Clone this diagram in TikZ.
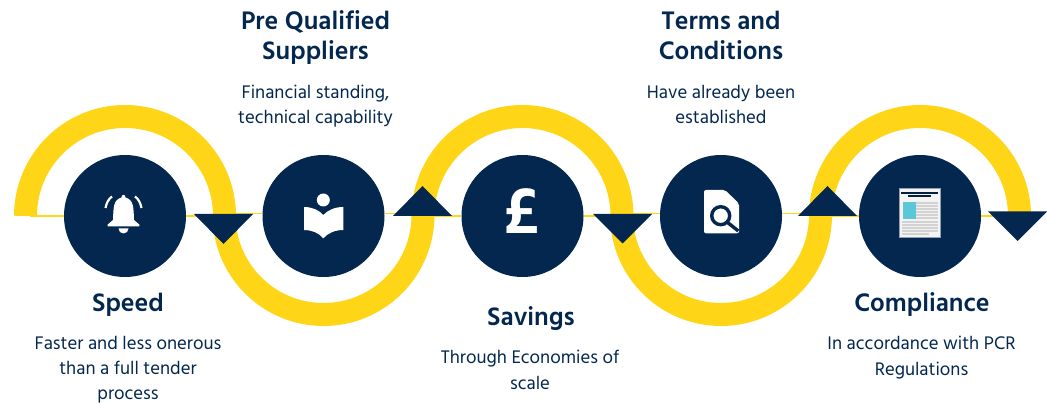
\documentclass[tikz,border=0pt]{standalone}
\usepackage{fontspec}
\setmainfont{Hind Madurai}
\definecolor{navy}{HTML}{03274F}
\definecolor{sun}{HTML}{FFD517}
\definecolor{paper}{HTML}{F3F3F3}
\definecolor{teal}{HTML}{5CC8D7}
\definecolor{bar}{HTML}{D2D2D2}
\tikzset{
  x=1pt,y=1pt,
  band/.style={draw=sun,line width=23pt,line cap=butt},
  thinline/.style={draw=sun,line width=1.6pt},
  disc/.style={circle,fill=navy,minimum size=122pt,inner sep=0pt},
  head/.style={inner sep=0pt,anchor=north,align=center,text=navy,font=\fontsize{26}{30}\selectfont\bfseries},
  copytext/.style={inner sep=0pt,anchor=north,align=center,text=navy,font=\fontsize{18.7}{25.7}\selectfont},
  pointer/.style={fill=navy},
  icon/.style={fill=white},
}
\begin{document}
\begin{tikzpicture}
\useasboundingbox (0,0) rectangle (1047,404);
% yellow bands
\draw[band] (25.5,188) arc[start angle=180,end angle=0,radius=99.5pt];
\draw[band] (224,189) arc[start angle=180,end angle=360,radius=99.5pt];
\draw[band] (423,188) arc[start angle=180,end angle=0,radius=99.5pt];
\draw[band] (621.5,189) arc[start angle=180,end angle=360,radius=99.5pt];
\draw[band] (820.5,188) arc[start angle=180,end angle=0,radius=99.5pt];
% circles
\coordinate (a0) at (30,188);
\coordinate (t1a) at (224,188);
\coordinate (t1b) at (224,190.6);
\coordinate (t2a) at (423,190.6);
\coordinate (t2b) at (423,188);
\coordinate (t3a) at (622,188);
\coordinate (t3b) at (622,190.6);
\coordinate (t4a) at (827,190.6);
\coordinate (t4b) at (827,188);
\coordinate (t5a) at (1000,188);
\node[disc] (c1) at (125,188) {};
\node[disc] (c2) at (323.5,188) {};
\node[disc] (c3) at (522.5,188) {};
\node[disc] (c4) at (721,188) {};
\node[disc] (c5) at (920,188) {};
% thin connectors
\draw[thinline] (a0) -- (c1.west);
\draw[thinline] (c1.east) -- (t1a);
\draw[thinline] (t1b) -- (t1b -| c2.west);
\draw[thinline] (t1b -| c2.east) -- (t2a);
\draw[thinline] (t2b) -- (c3.west);
\draw[thinline] (c3.east) -- (t3a);
\draw[thinline] (t3b) -- (t3b -| c4.west);
\draw[thinline] (t3b -| c4.east) -- (t4a);
\draw[thinline] (t4b) -- (c5.west);
\draw[thinline] (c5.east) -- (t5a);
% triangles
\fill[pointer] (194,190) -- (253,190) -- (223.5,160) -- cycle;
\fill[pointer] (393,188) -- (452,188) -- (422.5,218) -- cycle;
\fill[pointer] (593,190) -- (652,190) -- (622.5,160.5) -- cycle;
\fill[pointer] (798,188) -- (857,188) -- (827.5,218) -- cycle;
\fill[pointer] (988,192.5) -- (1047,192.5) -- (1017.5,163) -- cycle;
% bell
\fill[icon] (107.7,179.5) -- (113,184) .. controls (113.5,196) and (113,204) .. (121.5,206.5)
  .. controls (121.5,210) and (125.5,210) .. (125.5,206.5)
  .. controls (134,204) and (133.5,196) .. (134,184) -- (139.3,179.5) -- (139.3,177.5) -- (107.7,177.5) -- cycle;
\fill[icon] (118.5,175.5) arc[start angle=180,end angle=360,radius=5pt] -- cycle;
\draw[white,line width=2.2pt] (105.5,196) .. controls (106.5,201) and (108.5,205) .. (112,207.5);
\draw[white,line width=2.2pt] (135,207.5) .. controls (138.5,205) and (140.5,201) .. (141.5,196);
% book
\fill[icon] (323.3,204) circle[radius=6.5pt];
\fill[icon] (304,197) .. controls (312,197) and (319,194) .. (323.3,189)
  .. controls (328,194) and (335,197) .. (343.3,197) -- (343.3,174)
  .. controls (335,174) and (328,171) .. (323.3,165.7)
  .. controls (319,171) and (312,174) .. (304,174) -- cycle;
% pound
\node[inner sep=0pt,text=white,font=\fontsize{68}{68}\selectfont\bfseries] (pound) at (521.5,192.5) {£};
% document with magnifier
\fill[icon,rounded corners=2pt] (704,214) -- (725,214) -- (739,200.5) -- (739,170.7) -- (704,170.7) -- cycle;
\draw[navy,line width=3.4pt,fill=white] (720.7,188.3) circle[radius=9pt];
\draw[navy,line width=3.4pt] (727,182) -- (738.3,173);
% newspaper
\fill[paper,draw=bar!70!navy,line width=.7pt] (899,215.7) rectangle (940,166.3);
\fill[navy!80!black] (901,212) rectangle (938,210);
\fill[navy!80!black] (908,209) rectangle (931,207);
\fill[teal] (903,202) rectangle (916,184.7);
\foreach \yy in {201.7,198.7,195.7,192.7,189.7,186.7}{\fill[bar] (916,\yy) rectangle (938,\yy-2);}
\foreach \yy in {183.4,180.4,177.4,174.4}{\fill[bar] (902,\yy) rectangle (938,\yy-2);}
\fill[bar] (902,171.4) rectangle (929,169.4);
% texts
\node[head] (h1) at (128,114) {\strut Speed};
\node[copytext] (b1) at (128,72.5) {\strut Faster and less onerous\\[-1pt]than a full tender\\[-1pt]process};
\node[head] (h2) at (315.5,395.2) {\strut Pre Qualified\\Suppliers};
\node[copytext] (b2) at (315.5,324) {\strut Financial standing,\\technical capability};
\node[head] (h3) at (531,100) {\strut Savings};
\node[copytext] (b3) at (530,58.5) {\strut Through Economies of\\scale};
\node[head] (h4) at (721,395.2) {\strut Terms and\\Conditions};
\node[copytext] (b4) at (721,324) {\strut Have already been\\established};
\node[head] (h5) at (922,114) {\strut Compliance};
\node[copytext] (b5) at (921.5,72.3) {\strut In accordance with PCR\\Regulations};
\end{tikzpicture}
\end{document}
